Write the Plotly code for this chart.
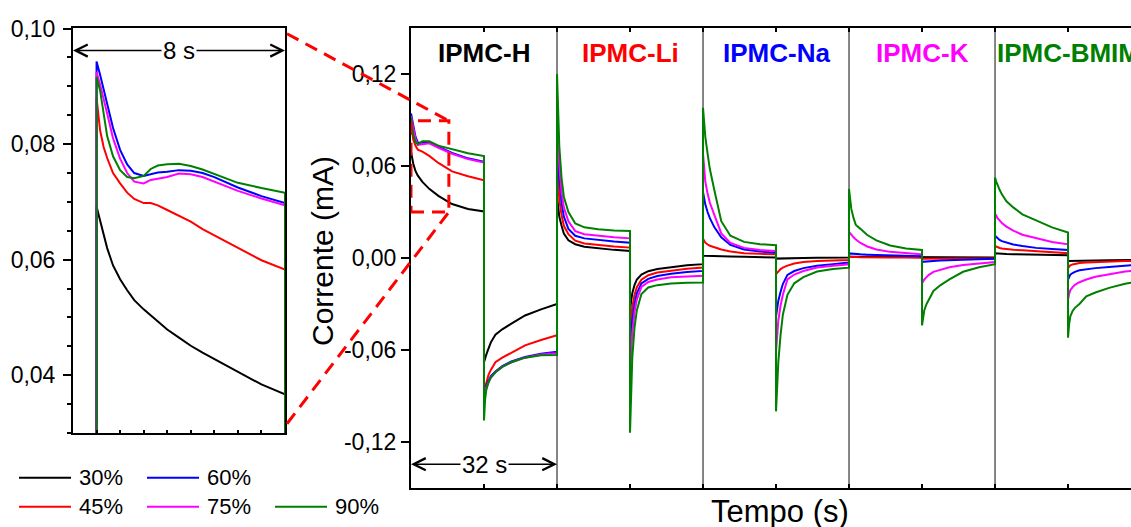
import plotly.graph_objects as go

W, H = 1131, 527
FONT = "Liberation Sans, Arial, sans-serif"

# ---------------- data ----------------
HUMIDITY = ["30%", "45%", "60%", "75%", "90%"]
LINE_COLORS = ["#000000", "#ff0000", "#0000ff", "#ff00ff", "#008000"]
SAMPLES = ["IPMC-H", "IPMC-Li", "IPMC-Na", "IPMC-K", "IPMC-BMIM"]
SAMPLE_COLORS = ["#000000", "#ff0000", "#0000ff", "#ff00ff", "#008000"]
SEGMENT_S = 32          # one sample block (s)
HALF_S = 16             # +V / -V half period (s)
PHASE_OFFSETS = [0, 0.25, 0.5, 1, 1.5, 2.5, 4, 6, 9, 12.5, 16]

# current (mA) per phase: H+, H-, Li+, Li-, Na+, Na-, K+, K-, BMIM+, BMIM-
cur_30 = [
    [0.0692, 0.0652, 0.0615, 0.0566, 0.0537, 0.0496, 0.0451, 0.0405, 0.0352, 0.0320, 0.0304],
    [-0.068, -0.065, -0.063, -0.059, -0.055, -0.050, -0.0465, -0.0428, -0.0375, -0.0335, -0.0300],
    [0.040, 0.033, 0.027, 0.021, 0.016, 0.0115, 0.0090, 0.0073, 0.0062, 0.0053, 0.0046],
    [-0.035, -0.028, -0.023, -0.0175, -0.0140, -0.0108, -0.0086, -0.0072, -0.0060, -0.0048, -0.0040],
    [0.0015, 0.0014, 0.0014, 0.0013, 0.0013, 0.0012, 0.0011, 0.0010, 0.0008, 0.0005, 0.0003],
    [-0.0004, -0.0004, -0.0003, -0.0003, -0.0002, -0.0002, -0.0001, 0.0000, 0.0001, 0.0002, 0.0003],
    [0.0008, 0.0008, 0.0008, 0.0008, 0.0008, 0.0007, 0.0007, 0.0007, 0.0006, 0.0006, 0.0006],
    [0.0005, 0.0005, 0.0005, 0.0005, 0.0005, 0.0005, 0.0005, 0.0005, 0.0004, 0.0004, 0.0004],
    [0.0031, 0.0030, 0.0029, 0.0028, 0.0027, 0.0026, 0.0025, 0.0023, 0.0021, 0.0019, 0.0018],
    [-0.0020, -0.0020, -0.0019, -0.0019, -0.0018, -0.0018, -0.0017, -0.0016, -0.0015, -0.0013, -0.0012],
]
cur_45 = [
    [0.0880, 0.0800, 0.0772, 0.0732, 0.0706, 0.0694, 0.0666, 0.0620, 0.0565, 0.0533, 0.0507],
    [-0.087, -0.084, -0.080, -0.076, -0.073, -0.068, -0.065, -0.062, -0.057, -0.0535, -0.0504],
    [0.062, 0.048, 0.038, 0.028, 0.021, 0.0155, 0.0113, 0.0095, 0.0084, 0.0075, 0.0068],
    [-0.050, -0.040, -0.032, -0.024, -0.0190, -0.0142, -0.0112, -0.0095, -0.0082, -0.0070, -0.0062],
    [0.0125, 0.0112, 0.0100, 0.0088, 0.0080, 0.0070, 0.0055, 0.0042, 0.0031, 0.0027, 0.0024],
    [-0.0105, -0.0095, -0.0085, -0.0072, -0.0063, -0.0050, -0.0036, -0.0026, -0.0020, -0.0016, -0.0013],
    [0.0008, 0.0007, 0.0007, 0.0006, 0.0006, 0.0005, 0.0004, 0.0004, 0.0003, 0.0003, 0.0002],
    [-0.0005, -0.0005, -0.0005, -0.0004, -0.0004, -0.0004, -0.0003, -0.0003, -0.0003, -0.0002, -0.0002],
    [0.0078, 0.0074, 0.0070, 0.0065, 0.0062, 0.0058, 0.0054, 0.0050, 0.0043, 0.0037, 0.0031],
    [-0.0065, -0.0055, -0.0048, -0.0042, -0.0038, -0.0033, -0.0029, -0.0026, -0.0023, -0.0020, -0.0018],
]
cur_60 = [
    [0.0943, 0.0905, 0.0858, 0.0790, 0.0752, 0.0751, 0.0754, 0.0726, 0.0685, 0.0650, 0.0628],
    [-0.087, -0.085, -0.083, -0.080, -0.077, -0.074, -0.0705, -0.0675, -0.0645, -0.0625, -0.0612],
    [0.090, 0.068, 0.052, 0.036, 0.027, 0.019, 0.0145, 0.0128, 0.0118, 0.0108, 0.0100],
    [-0.065, -0.051, -0.041, -0.030, -0.0230, -0.0166, -0.0136, -0.0118, -0.0103, -0.0092, -0.0084],
    [0.043, 0.039, 0.035, 0.030, 0.026, 0.020, 0.0135, 0.0085, 0.0055, 0.0042, 0.0035],
    [-0.038, -0.033, -0.028, -0.022, -0.017, -0.0110, -0.0085, -0.0066, -0.0051, -0.0040, -0.0030],
    [0.0030, 0.0029, 0.0028, 0.0027, 0.0026, 0.0024, 0.0022, 0.0020, 0.0017, 0.0014, 0.0012],
    [-0.0025, -0.0024, -0.0023, -0.0022, -0.0021, -0.0019, -0.0017, -0.0014, -0.0011, -0.0008, -0.0005],
    [0.0145, 0.0138, 0.0130, 0.0118, 0.0110, 0.0100, 0.0088, 0.0078, 0.0066, 0.0058, 0.0052],
    [-0.0140, -0.0120, -0.0108, -0.0098, -0.0090, -0.0080, -0.0072, -0.0066, -0.0058, -0.0048, -0.0042],
]
cur_75 = [
    [0.0925, 0.0888, 0.0842, 0.0775, 0.0737, 0.0740, 0.0748, 0.0719, 0.0680, 0.0645, 0.0622],
    [-0.088, -0.086, -0.084, -0.081, -0.078, -0.0745, -0.071, -0.068, -0.065, -0.063, -0.0622],
    [0.106, 0.080, 0.060, 0.043, 0.033, 0.024, 0.0175, 0.0155, 0.0145, 0.0135, 0.0128],
    [-0.080, -0.062, -0.049, -0.035, -0.0270, -0.0188, -0.0156, -0.0140, -0.0126, -0.0120, -0.0116],
    [0.068, 0.058, 0.050, 0.042, 0.036, 0.028, 0.0160, 0.0098, 0.0066, 0.0052, 0.0046],
    [-0.061, -0.050, -0.041, -0.031, -0.024, -0.0140, -0.0108, -0.0085, -0.0062, -0.0050, -0.0041],
    [0.0170, 0.0160, 0.0150, 0.0135, 0.0120, 0.0098, 0.0075, 0.0055, 0.0040, 0.0030, 0.0024],
    [-0.0165, -0.0150, -0.0140, -0.0125, -0.0110, -0.0090, -0.0075, -0.0060, -0.0045, -0.0034, -0.0026],
    [0.0290, 0.0275, 0.0262, 0.0245, 0.0228, 0.0205, 0.0178, 0.0152, 0.0128, 0.0105, 0.0089],
    [-0.0270, -0.0235, -0.0210, -0.0190, -0.0175, -0.0158, -0.0140, -0.0122, -0.0105, -0.0088, -0.0078],
]
cur_90 = [
    [0.0916, 0.0870, 0.0805, 0.0755, 0.0742, 0.0762, 0.0761, 0.0733, 0.0708, 0.0683, 0.0665],
    [-0.106, -0.092, -0.086, -0.081, -0.078, -0.0745, -0.071, -0.068, -0.065, -0.0635, -0.0632],
    [0.120, 0.095, 0.073, 0.052, 0.040, 0.030, 0.0225, 0.0200, 0.0188, 0.0180, 0.0176],
    [-0.114, -0.085, -0.065, -0.045, -0.034, -0.0235, -0.0192, -0.0177, -0.0166, -0.0162, -0.0160],
    [0.098, 0.088, 0.079, 0.068, 0.058, 0.044, 0.0240, 0.0145, 0.0105, 0.0090, 0.0083],
    [-0.100, -0.082, -0.068, -0.050, -0.037, -0.024, -0.0165, -0.0125, -0.0088, -0.0072, -0.0063],
    [0.045, 0.038, 0.032, 0.026, 0.0215, 0.0190, 0.0150, 0.0115, 0.0082, 0.0062, 0.0052],
    [-0.044, -0.038, -0.034, -0.030, -0.027, -0.0215, -0.0178, -0.0140, -0.0090, -0.0060, -0.0041],
    [0.0525, 0.0500, 0.0478, 0.0445, 0.0415, 0.0370, 0.0330, 0.0285, 0.0245, 0.0200, 0.0166],
    [-0.0520, -0.0430, -0.0380, -0.0345, -0.0325, -0.0300, -0.0250, -0.0225, -0.0195, -0.0168, -0.0150],
]

# inset: first 8 s of IPMC-H (value 0.0 = trace leaves the window below)
inset_t = [0, 0, 0.15, 0.3, 0.45, 0.7, 1.0, 1.3, 1.6, 2.0, 2.3, 2.6, 3.0, 3.5, 4.0, 4.5, 5.0, 6.0, 7.0, 8.0, 8.0]
ins_30 = [0.0, 0.0692, 0.0668, 0.0645, 0.0620, 0.0590, 0.0566, 0.0547, 0.0530, 0.0514, 0.0503, 0.0492,
          0.0479, 0.0465, 0.0451, 0.0439, 0.0428, 0.0405, 0.0384, 0.0367, 0.0]
ins_45 = [0.0, 0.0880, 0.0824, 0.0795, 0.0776, 0.0750, 0.0732, 0.0716, 0.0705, 0.0698, 0.0698, 0.0694,
          0.0686, 0.0676, 0.0666, 0.0653, 0.0642, 0.0620, 0.0599, 0.0583, 0.0]
ins_60 = [0.0, 0.0943, 0.0920, 0.0897, 0.0870, 0.0828, 0.0790, 0.0765, 0.0750, 0.0745, 0.0748, 0.0751,
          0.0752, 0.0755, 0.0754, 0.0750, 0.0743, 0.0725, 0.0710, 0.0698, 0.0]
ins_75 = [0.0, 0.0925, 0.0903, 0.0880, 0.0853, 0.0810, 0.0775, 0.0750, 0.0735, 0.0732, 0.0738, 0.0740,
          0.0743, 0.0749, 0.0748, 0.0743, 0.0735, 0.0719, 0.0706, 0.0694, 0.0]
ins_90 = [0.0, 0.0916, 0.0893, 0.0855, 0.0814, 0.0779, 0.0755, 0.0743, 0.0741, 0.0745, 0.0757, 0.0763,
          0.0765, 0.0766, 0.0762, 0.0756, 0.0748, 0.0733, 0.0724, 0.0716, 0.0]

MAIN_Y_TICKS = [-0.12, -0.06, 0.0, 0.06, 0.12]
MAIN_Y_LABELS = ["-0,12", "-0,06", "0,00", "0,06", "0,12"]
INS_Y_TICKS = [0.04, 0.06, 0.08, 0.10]
INS_Y_LABELS = ["0,04", "0,06", "0,08", "0,10"]
ZOOM_T = 8.3                 # extent of zoomed window (s)
ZOOM_V = (0.030, 0.0895)     # extent of zoomed window (mA)

# ---------------- layout geometry ----------------
MAIN_X = (411 / W, 1.0)
MAIN_Y = (1 - 488 / H, 1 - 28 / H)
INS_X = (73 / W, 285 / W)
INS_Y = (1 - 433 / H, 1 - 28 / H)
MAIN_XR = [0, 157.8]
MAIN_YR = [-0.15, 0.15]
INS_XR = [-1, 8]
INS_YR = [0.030, 0.1001]


def main_paper(t, v):
    px = MAIN_X[0] + (t - MAIN_XR[0]) / (MAIN_XR[1] - MAIN_XR[0]) * (MAIN_X[1] - MAIN_X[0])
    py = MAIN_Y[0] + (v - MAIN_YR[0]) / (MAIN_YR[1] - MAIN_YR[0]) * (MAIN_Y[1] - MAIN_Y[0])
    return px, py


def ins_paper(t, v):
    px = INS_X[0] + (t - INS_XR[0]) / (INS_XR[1] - INS_XR[0]) * (INS_X[1] - INS_X[0])
    py = INS_Y[0] + (v - INS_YR[0]) / (INS_YR[1] - INS_YR[0]) * (INS_Y[1] - INS_Y[0])
    return px, py


fig = go.Figure()

main_series = [cur_30, cur_45, cur_60, cur_75, cur_90]
inset_series = [ins_30, ins_45, ins_60, ins_75, ins_90]

for name, color, phases in zip(HUMIDITY, LINE_COLORS, main_series):
    xs, ys = [], []
    for k, vals in enumerate(phases):
        xs += [HALF_S * k + o for o in PHASE_OFFSETS]
        ys += vals
    fig.add_trace(go.Scatter(x=xs, y=ys, mode="lines", name=name, showlegend=False,
                             line=dict(color=color, width=2), xaxis="x", yaxis="y"))

for name, color, vals in zip(HUMIDITY, LINE_COLORS, inset_series):
    fig.add_trace(go.Scatter(x=inset_t, y=vals, mode="lines", name=name, showlegend=False,
                             line=dict(color=color, width=2), xaxis="x2", yaxis="y2"))

shapes = []
# block separators
for k in range(1, len(SAMPLES)):
    shapes.append(dict(type="line", xref="x", yref="y domain", x0=k * SEGMENT_S, x1=k * SEGMENT_S,
                       y0=0, y1=1, line=dict(color="#333333", width=1.2), layer="below"))
# dashed zoom box
RED_DASH = dict(color="#ff0000", width=3, dash="13px,8px")
shapes.append(dict(type="rect", xref="x", yref="y", x0=0, x1=ZOOM_T, y0=ZOOM_V[0], y1=ZOOM_V[1],
                   line=RED_DASH, layer="above"))
# connectors from inset to box
for v_ins, v_main in [(0.0991, ZOOM_V[1]), (0.0316, ZOOM_V[0])]:
    x0, y0 = ins_paper(INS_XR[1], v_ins)
    x1, y1 = main_paper(ZOOM_T, v_main)
    shapes.append(dict(type="line", xref="paper", yref="paper", x0=x0 + 2 / W, y0=y0, x1=x1, y1=y1,
                       line=RED_DASH, layer="above"))

annotations = []
for i, (s, c) in enumerate(zip(SAMPLES, SAMPLE_COLORS)):
    annotations.append(dict(x=SEGMENT_S * i + HALF_S, y=0.1339, xref="x", yref="y", text=f"<b>{s}</b>",
                            xanchor="center", yanchor="middle",
                            showarrow=False, font=dict(family=FONT, size=26, color=c)))


def double_arrow(xref, yref, x0, x1, y, label):
    mid = (x0 + x1) / 2
    out = []
    for tip in (x0, x1):
        out.append(dict(x=tip, y=y, ax=mid, ay=y, xref=xref, yref=yref, axref=xref, ayref=yref,
                        text="", showarrow=True, arrowhead=5, arrowsize=1.7, arrowwidth=1.4,
                        arrowcolor="black", standoff=0, startstandoff=0))
    out.append(dict(x=mid, y=y, xref=xref, yref=yref, text=label, showarrow=False, bgcolor="white",
                    xanchor="center", yanchor="middle",
                    borderpad=1, font=dict(family=FONT, size=24, color="black")))
    return out


annotations += double_arrow("x2", "y2", INS_XR[0], INS_XR[1], 0.0962, "8 s")
annotations += double_arrow("x", "y", 0, SEGMENT_S, -0.1345, "32 s")

annotations.append(dict(x=322 / W, y=1 - 251 / H, xref="paper", yref="paper", text="Corrente (mA)",
                        xanchor="center", yanchor="middle", textangle=-90, showarrow=False,
                        font=dict(family=FONT, size=30, color="black")))
annotations.append(dict(x=780 / W, y=1 - 511 / H, xref="paper", yref="paper", text="Tempo (s)",
                        xanchor="center", yanchor="middle", showarrow=False,
                        font=dict(family=FONT, size=31, color="black")))

# legend (2 rows x 3 columns)
LEG_POS = [(19, 477.7), (19, 506.7), (147, 477.7), (147, 506.7), (275, 506.7)]
for (lx, ly), name, color in zip(LEG_POS, HUMIDITY, LINE_COLORS):
    shapes.append(dict(type="line", xref="paper", yref="paper", x0=lx / W, x1=(lx + 52) / W,
                       y0=1 - ly / H, y1=1 - ly / H, line=dict(color=color, width=2)))
    annotations.append(dict(x=(lx + 58) / W, y=1 - ly / H, xref="paper", yref="paper", text=name,
                            xanchor="left", yanchor="middle", showarrow=False,
                            font=dict(family=FONT, size=22, color="black")))

axis_common = dict(showgrid=False, zeroline=False, showline=True, linecolor="black", linewidth=2,
                   tickcolor="black", tickfont=dict(family=FONT, size=23, color="black"),
                   automargin=False)

fig.update_layout(
    width=W, height=H, margin=dict(l=0, r=0, t=0, b=0),
    paper_bgcolor="white", plot_bgcolor="white", showlegend=False,
    font=dict(family=FONT, color="black"),
    xaxis=dict(domain=list(MAIN_X), range=MAIN_XR, anchor="y", tickmode="linear", tick0=0, dtick=HALF_S,
               ticks="inside", ticklen=4, tickwidth=1.5, showticklabels=False, mirror="ticks", **axis_common),
    yaxis=dict(domain=list(MAIN_Y), range=MAIN_YR, anchor="x", tickmode="array", tickvals=MAIN_Y_TICKS,
               ticktext=MAIN_Y_LABELS, ticks="outside", ticklen=8, tickwidth=1.5, **axis_common),
    xaxis2=dict(domain=list(INS_X), range=INS_XR, anchor="y2", tickmode="linear", tick0=0, dtick=1,
                ticks="inside", ticklen=3, tickwidth=1.5, showticklabels=False, mirror=True, **axis_common),
    yaxis2=dict(domain=list(INS_Y), range=INS_YR, anchor="x2", tickmode="array", tickvals=INS_Y_TICKS,
                ticktext=INS_Y_LABELS, ticks="outside", ticklen=8, tickwidth=1.5, mirror=True,
                ticklabelstandoff=3,
                minor=dict(ticks="outside", ticklen=4, tickwidth=1.5, tickcolor="black", tick0=0, dtick=0.005),
                **axis_common),
    shapes=shapes, annotations=annotations,
)

fig.write_html("out.html")
